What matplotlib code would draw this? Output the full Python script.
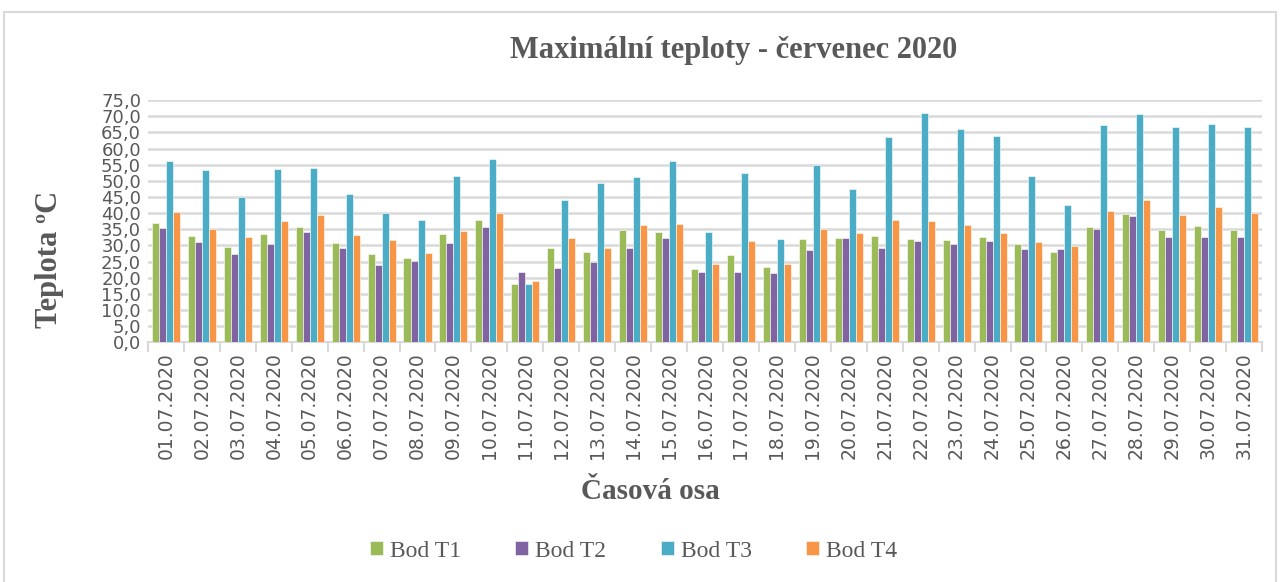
# -*- coding: utf-8 -*-
import numpy as np
import matplotlib
matplotlib.use('Agg')
import matplotlib.pyplot as plt
from matplotlib.patches import Rectangle

days = ['%02d.07.2020' % d for d in range(1, 32)]

bod_t1 = [36.9, 32.9, 29.5, 33.4, 35.8, 30.6, 27.3, 26.2, 33.5, 38.0, 18.1, 29.3, 27.9, 34.9, 34.0,
          22.8, 27.1, 23.2, 32.1, 32.2, 33.0, 32.1, 31.6, 32.5, 30.5, 27.8, 35.6, 39.6, 34.8, 36.1, 34.8]
bod_t2 = [35.4, 31.1, 27.4, 30.5, 34.0, 29.1, 24.0, 25.3, 30.7, 35.8, 21.6, 23.0, 24.8, 29.3, 32.3,
          21.6, 21.7, 21.3, 28.7, 32.4, 29.1, 31.3, 30.3, 31.4, 29.0, 29.0, 35.1, 39.0, 32.7, 32.7, 32.7]
bod_t3 = [56.2, 53.4, 45.0, 53.7, 53.9, 45.8, 40.0, 38.0, 51.4, 56.9, 18.0, 44.0, 49.2, 51.2, 56.0,
          34.0, 52.3, 32.0, 54.9, 47.6, 63.5, 70.9, 66.1, 63.9, 51.4, 42.6, 67.2, 70.7, 66.8, 67.7, 66.6]
bod_t4 = [40.3, 35.1, 32.5, 37.4, 39.4, 33.3, 31.6, 27.5, 34.6, 40.0, 19.0, 32.2, 29.1, 36.3, 36.6,
          24.1, 31.3, 24.1, 35.2, 33.9, 37.9, 37.7, 36.4, 33.7, 31.1, 29.9, 40.8, 44.0, 39.3, 42.0, 39.9]

series = [bod_t1, bod_t2, bod_t3, bod_t4]
names = ['Bod T1', 'Bod T2', 'Bod T3', 'Bod T4']
colors = ['#9BBB59', '#8064A2', '#4BACC6', '#F79646']

grey = '#595959'
serif = 'Liberation Serif'

fig = plt.figure(figsize=(12.8, 5.82), dpi=100)
ax = fig.add_axes([0.1156, 0.412, 0.8704, 0.416])

x = np.arange(len(days))
w = 0.195
for i in range(4):
    ax.bar(x + (i - 1.5) * w, series[i], w, color=colors[i], edgecolor='white',
           linewidth=0.4, label=names[i], zorder=3)

ax.set_xlim(-0.5, len(days) - 0.5)
ax.set_ylim(0, 75)
ax.set_yticks(np.arange(0, 76, 5))
ax.yaxis.set_major_formatter(matplotlib.ticker.FuncFormatter(lambda v, p: ('%.1f' % v).replace('.', ',')))
ax.grid(axis='y', color='#D9D9D9', linewidth=1.8, zorder=0)
for s in ['top', 'right', 'left']:
    ax.spines[s].set_visible(False)
ax.spines['bottom'].set_color('#D9D9D9')
ax.spines['bottom'].set_linewidth(1.5)
ax.tick_params(axis='y', length=0, labelsize=13, labelcolor=grey, pad=5)

ax.set_xticks(x)
ax.set_xticklabels(days, rotation=90)
ax.tick_params(axis='x', length=0, labelsize=13.5, labelcolor=grey, pad=7)
ax.set_xticks(np.arange(-0.5, len(days), 1), minor=True)
ax.tick_params(axis='x', which='minor', length=7, color='#D9D9D9', width=1.5)

fig.text(0.573, 0.913, 'Maximální teploty - červenec 2020', ha='center', va='center',
         fontsize=22, fontweight='bold', color=grey, family=serif)
fig.text(0.039, 0.555, 'Teplota ºC', ha='center', va='center', rotation=90,
         fontsize=22, fontweight='bold', color=grey, family=serif)
fig.text(0.508, 0.155, 'Časová osa', ha='center', va='center',
         fontsize=21, fontweight='bold', color=grey, family=serif)

leg = fig.legend(loc='center', bbox_to_anchor=(0.495, 0.053), ncol=4, frameon=False,
                 prop={'family': serif, 'size': 17}, handlelength=0.55, handleheight=0.55,
                 columnspacing=2.3, handletextpad=0.3)
for t in leg.get_texts():
    t.set_color(grey)

fig.patches.append(Rectangle((0.003, -0.05), 0.994, 1.03, transform=fig.transFigure,
                             fill=False, edgecolor='#D9D9D9', linewidth=1.5))

fig.savefig('out.png', dpi=100)
